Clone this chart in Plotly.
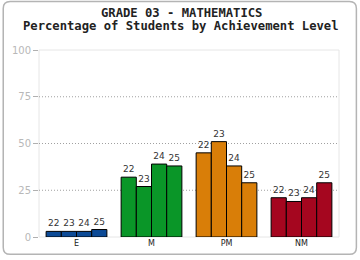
import plotly.graph_objects as go

categories = ["E", "M", "PM", "NM"]
series_names = ["22", "23", "24", "25"]
values = {
    "22": [3, 32, 45, 21],
    "23": [3, 27, 51, 19],
    "24": [3, 39, 38, 21],
    "25": [4, 38, 29, 29],
}
category_colors = ["#0C4A96", "#0A9628", "#D97E08", "#A5061F"]
y_ticks = [0, 25, 50, 75, 100]
title_lines = ["GRADE 03 - MATHEMATICS", "Percentage of Students by Achievement Level"]

W, H = 360, 260
L, R, T, B = 37, 21, 50, 21
pw, ph = W - L - R, H - T - B

fig = go.Figure()
for name in series_names:
    fig.add_trace(go.Bar(
        x=categories, y=values[name], name=name,
        text=[name] * len(categories), textposition="outside",
        textfont=dict(family="DejaVu Sans", size=9, color="#333333"),
        marker=dict(color=category_colors, line=dict(color="#000000", width=1)),
        cliponaxis=False, hoverinfo="skip",
    ))

def px_x(p):
    return (p - L) / pw

def px_y(p):
    return (H - B - p) / ph

# rounded outer border
x0, y0, x1, y1, r = 1, 1, 356.5, 256.5, 7
path = (f"M {px_x(x0 + r)},{px_y(y0)} L {px_x(x1 - r)},{px_y(y0)} "
        f"Q {px_x(x1)},{px_y(y0)} {px_x(x1)},{px_y(y0 + r)} "
        f"L {px_x(x1)},{px_y(y1 - r)} "
        f"Q {px_x(x1)},{px_y(y1)} {px_x(x1 - r)},{px_y(y1)} "
        f"L {px_x(x0 + r)},{px_y(y1)} "
        f"Q {px_x(x0)},{px_y(y1)} {px_x(x0)},{px_y(y1 - r)} "
        f"L {px_x(x0)},{px_y(y0 + r)} "
        f"Q {px_x(x0)},{px_y(y0)} {px_x(x0 + r)},{px_y(y0)} Z")
shapes = [dict(type="path", xref="paper", yref="paper", path=path,
               line=dict(color="#B4B4B4", width=1.5), layer="below")]
# plot frame
shapes.append(dict(type="rect", xref="paper", yref="paper", x0=0, y0=0, x1=1, y1=1,
                   line=dict(color="#E6E6E6", width=1), layer="below"))
# dotted gridlines
for t in y_ticks[1:-1]:
    shapes.append(dict(type="line", xref="paper", yref="y", x0=0, x1=1, y0=t, y1=t,
                       line=dict(color="#A0A0A0", width=1, dash="1px,2px"), layer="below"))

annotations = []
for i, line in enumerate(title_lines):
    annotations.append(dict(
        text=f"<b>{line}</b>", xref="paper", yref="paper",
        x=px_x(180), y=px_y(13 + 13 * i), xanchor="center", yanchor="middle",
        showarrow=False,
        font=dict(family="DejaVu Sans Mono", size=12.2, color="#222222"),
    ))

fig.update_layout(
    width=W, height=H, margin=dict(l=L, r=R, t=T, b=B),
    paper_bgcolor="white", plot_bgcolor="white",
    barmode="group", bargap=0.19, bargroupgap=0,
    showlegend=False,
    xaxis=dict(showgrid=False, showline=False, ticks="", zeroline=False,
               tickfont=dict(family="DejaVu Sans", size=8, color="#222222")),
    yaxis=dict(range=[0, 100], tickvals=y_ticks, showgrid=False, zeroline=False,
               showline=False, ticks="outside", ticklen=5, tickcolor="#B0B0B0",
               tickfont=dict(family="DejaVu Sans", size=10, color="#B8B8B8")),
    shapes=shapes, annotations=annotations,
)
fig.write_html("out.html")
